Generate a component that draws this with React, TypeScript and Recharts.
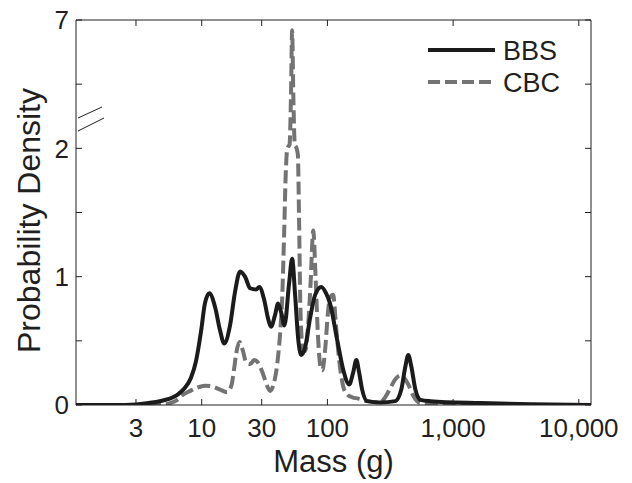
import React from 'react';
import { LineChart, Line, XAxis, YAxis, Legend } from 'recharts';

// body mass (g) and kernel density
const bbsMass = [1, 2, 3, 3.4, 4.9, 6.3, 7.3, 8.2, 9.0, 9.9, 10.6, 11.5, 12.8, 14.0, 15.1, 16.8, 18.4, 20.2, 22.1, 24.3, 27.1, 28.7, 31.4, 33.8, 35.6, 38.3, 40.5, 42.9, 45.5, 49.6, 52.4, 55.4, 58.5, 61.9, 66.5, 72.9, 80, 89.4, 97.7, 105, 120, 134, 149, 160, 170, 179, 189, 207, 263, 347, 387, 417, 440, 465, 501, 549, 659, 1650, 4130, 12500];
const bbsDensity = [0, 0, 0.004, 0.01, 0.035, 0.075, 0.13, 0.21, 0.34, 0.58, 0.79, 0.87, 0.76, 0.58, 0.48, 0.62, 0.88, 1.04, 1.0, 0.91, 0.9, 0.92, 0.82, 0.67, 0.61, 0.7, 0.79, 0.72, 0.62, 0.95, 1.14, 0.85, 0.52, 0.39, 0.45, 0.68, 0.86, 0.92, 0.87, 0.79, 0.5, 0.27, 0.16, 0.25, 0.35, 0.25, 0.12, 0.03, 0.02, 0.03, 0.12, 0.3, 0.39, 0.3, 0.12, 0.04, 0.03, 0.015, 0.006, 0];

const cbcMass = [1, 4, 5.1, 5.6, 6.4, 7.1, 8.1, 9.2, 10.6, 12.1, 14.0, 15.9, 17.2, 18.1, 18.8, 20.0, 21.3, 22.6, 24.3, 26.1, 28.1, 30.8, 33.1, 35.0, 37.0, 40.0, 42.0, 43.7, 45.3, 46.6, 48.0, 50.0, 51.3, 52.4, 53.6, 55.0, 56.7, 58.2, 59.6, 61.0, 63.5, 66.5, 70.0, 73.5, 77.1, 80.5, 84.0, 88.0, 91.0, 96.3, 101, 105, 111, 117, 124, 134, 144, 158, 176, 207, 263, 288, 316, 347, 380, 409, 440, 483, 549, 800, 2000, 12500];
const cbcDensity = [0, 0, 0.005, 0.015, 0.04, 0.08, 0.11, 0.135, 0.15, 0.145, 0.12, 0.1, 0.15, 0.28, 0.4, 0.49, 0.42, 0.33, 0.32, 0.35, 0.33, 0.24, 0.15, 0.11, 0.15, 0.33, 0.55, 0.84, 1.35, 1.8, 2.0, 2.15, 4.0, 6.6, 4.0, 2.15, 2.02, 1.95, 1.4, 0.75, 0.45, 0.42, 0.6, 0.95, 1.36, 1.0, 0.55, 0.3, 0.27, 0.45, 0.72, 0.84, 0.86, 0.62, 0.35, 0.14, 0.08, 0.06, 0.05, 0.03, 0.02, 0.06, 0.13, 0.2, 0.23, 0.21, 0.16, 0.07, 0.015, 0.008, 0.003, 0];

const xTicks = [3, 10, 30, 100, 1000, 10000];
const yTicks = [0, 0.5, 1, 1.5, 2, 2.5, 3];
const yTickLabels = ['0', '', '1', '', '2', '', '7'];

// broken y axis: 0-2 linear, then 2-7 squeezed into one unit
const BREAK = 2;
const SQUEEZE = 5;
const toAxis = (v: number) => (v <= BREAK ? v : BREAK + (v - BREAK) / SQUEEZE);

const bbsData = bbsMass.map((m, i) => ({ mass: m, density: toAxis(bbsDensity[i]) }));
const cbcData = cbcMass.map((m, i) => ({ mass: m, density: toAxis(cbcDensity[i]) }));

const FONT = '"Liberation Sans", Arial, Helvetica, sans-serif';
const INK = '#231f20';
const BBS_COLOR = '#1b1b1b';
const CBC_COLOR = '#737373';
const X_DOMAIN = [1, 12500];

// ticks point inwards on all four sides, matlab style
const BottomTick = ({ x, y, payload }: any) => (
  <g>
    <line x1={x} y1={y} x2={x} y2={y - 6} stroke={INK} />
    <text x={x} y={y + 32} textAnchor="middle" fontSize={26} fontFamily={FONT} fill={INK}>
      {Number(payload.value).toLocaleString('en-US')}
    </text>
  </g>
);

const TopTick = ({ x, y }: any) => <line x1={x} y1={y} x2={x} y2={y + 6} stroke={INK} />;

const LeftTick = ({ x, y, index }: any) => (
  <g>
    <line x1={x} y1={y} x2={x + 6} y2={y} stroke={INK} />
    <text x={x - 7} y={y} dy="0.36em" textAnchor="end" fontSize={26} fontFamily={FONT} fill={INK}>
      {yTickLabels[index]}
    </text>
  </g>
);

const RightTick = ({ x, y }: any) => <line x1={x} y1={y} x2={x - 6} y2={y} stroke={INK} />;

const yLabel = (props: any) => {
  const vb = props.viewBox;
  const cx = vb.x + 28;
  const cy = vb.y + vb.height / 2 + 8;
  return (
    <text
      x={cx}
      y={cy}
      dy="0.36em"
      transform={`rotate(-90, ${cx}, ${cy})`}
      textAnchor="middle"
      fontSize={32}
      fontFamily={FONT}
      fill={INK}
    >
      Probability Density
    </text>
  );
};

const xLabel = (props: any) => {
  const vb = props.viewBox;
  return (
    <text x={vb.x + vb.width / 2} y={vb.y + 67} textAnchor="middle" fontSize={31} fontFamily={FONT} fill={INK}>
      Mass (g)
    </text>
  );
};

const renderLegend = () => (
  <svg width={200} height={80}>
    <line x1={8} y1={25} x2={75} y2={25} stroke={BBS_COLOR} strokeWidth={4} />
    <text x={83} y={35} fontSize={27} fontFamily={FONT} fill={INK}>BBS</text>
    <line x1={8} y1={57} x2={75} y2={57} stroke={CBC_COLOR} strokeWidth={4} strokeDasharray="12 5" />
    <text x={83} y={67} fontSize={27} fontFamily={FONT} fill={INK}>CBC</text>
  </svg>
);

export default function App() {
  return (
    <div style={{ position: 'absolute', left: 0, top: 0, width: 632, height: 483, background: '#fff' }}>
      <LineChart width={632} height={483} margin={{ top: 19, right: 40, bottom: 0, left: 0 }}>
        <XAxis
          dataKey="mass"
          type="number"
          scale="log"
          domain={X_DOMAIN}
          allowDataOverflow
          ticks={xTicks}
          interval={0}
          height={78}
          tickSize={0}
          tickMargin={0}
          tick={<BottomTick />}
          axisLine={{ stroke: INK }}
          label={{ content: xLabel }}
        />
        {/* top and right axes only draw the frame + inner ticks */}
        <XAxis
          xAxisId="top"
          orientation="top"
          dataKey="mass"
          type="number"
          scale="log"
          domain={X_DOMAIN}
          allowDataOverflow
          ticks={xTicks}
          interval={0}
          height={1}
          tickSize={0}
          tickMargin={0}
          tick={<TopTick />}
          axisLine={{ stroke: INK }}
        />
        <YAxis
          type="number"
          domain={[0, 3]}
          allowDataOverflow
          ticks={yTicks}
          interval={0}
          width={76}
          tickSize={0}
          tickMargin={0}
          tick={<LeftTick />}
          axisLine={{ stroke: INK }}
          label={{ content: yLabel }}
        />
        <YAxis
          yAxisId="right"
          orientation="right"
          type="number"
          domain={[0, 3]}
          allowDataOverflow
          ticks={yTicks}
          interval={0}
          width={1}
          tickSize={0}
          tickMargin={0}
          tick={<RightTick />}
          axisLine={{ stroke: INK }}
        />
        <Legend
          layout="horizontal"
          verticalAlign="middle"
          align="center"
          content={renderLegend}
          wrapperStyle={{ left: 420, top: 25, width: 200, height: 80 }}
        />
        <Line
          data={cbcData}
          dataKey="density"
          name="CBC"
          type="monotone"
          stroke={CBC_COLOR}
          strokeWidth={4}
          strokeDasharray="13 5"
          dot={false}
          activeDot={false}
          isAnimationActive={false}
        />
        <Line
          data={bbsData}
          dataKey="density"
          name="BBS"
          type="monotone"
          stroke={BBS_COLOR}
          strokeWidth={4}
          dot={false}
          activeDot={false}
          isAnimationActive={false}
        />
      </LineChart>
      {/* axis break mark */}
      <svg width={632} height={483} style={{ position: 'absolute', left: 0, top: 0, pointerEvents: 'none' }}>
        <line x1={78} y1={118} x2={102} y2={107} stroke={INK} />
        <line x1={78} y1={131} x2={104} y2={118} stroke={INK} />
      </svg>
    </div>
  );
}
